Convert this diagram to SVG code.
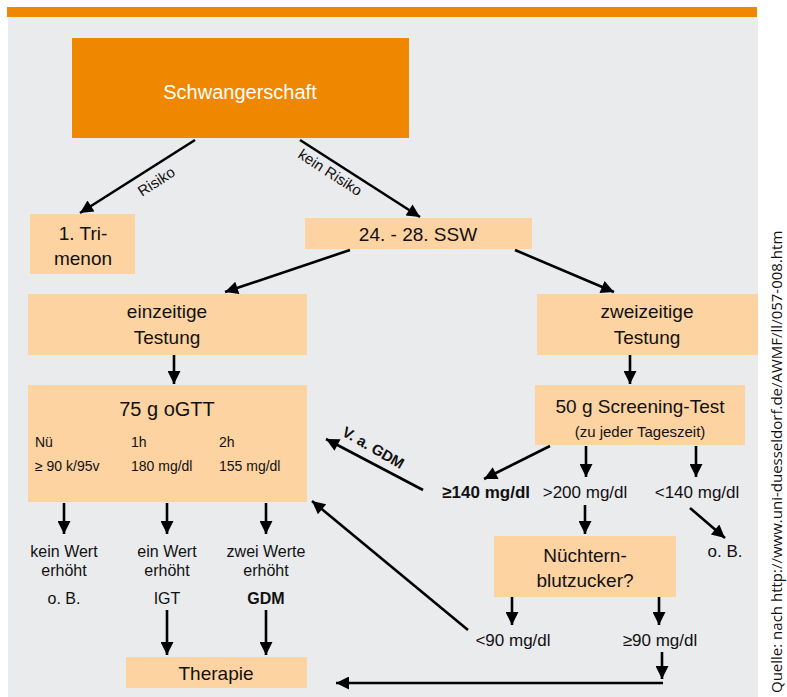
<svg xmlns="http://www.w3.org/2000/svg" width="787" height="697" viewBox="0 0 787 697">
<defs>
<style>
.bg{fill:#EAEBED}
.box{fill:#FCD3A1}
.t{font-family:"Liberation Sans",Arial,sans-serif;fill:#111}
.n{font-family:"Liberation Sans",Arial,sans-serif;fill:#111}
.c{stroke:#000;stroke-width:2.6;fill:none}
</style>
<marker id="ah" viewBox="0 0 10 10" refX="10" refY="5" markerWidth="6.2" markerHeight="5" markerUnits="strokeWidth" orient="auto">
<path d="M0,0 L10,5 L0,10 z" fill="#000"/>
</marker>
</defs>
<rect x="8" y="17" width="750" height="680" class="bg"/>
<rect x="7" y="7" width="750" height="10" fill="#F08700"/>

<g id="n-schwangerschaft">
<rect x="72" y="38" width="337" height="100" fill="#F08700"/>
<text x="240" y="99" class="t" font-size="20" text-anchor="middle" style="fill:#fff">Schwangerschaft</text>
</g>
<g id="n-trimenon">
<rect x="30" y="214" width="105" height="60" class="box"/>
<text x="83" y="240" class="n" font-size="19" text-anchor="middle">1. Tri-</text>
<text x="83" y="265" class="n" font-size="19" text-anchor="middle">menon</text>
</g>
<g id="n-ssw">
<rect x="305" y="218" width="227" height="31" class="box"/>
<text x="418" y="241" class="n" font-size="19" text-anchor="middle">24. - 28. SSW</text>
</g>
<g id="n-einzeitig">
<rect x="28" y="294" width="279" height="61" class="box"/>
<text x="167" y="318" class="n" font-size="19" text-anchor="middle">einzeitige</text>
<text x="167" y="344" class="n" font-size="19" text-anchor="middle">Testung</text>
</g>
<g id="n-zweizeitig">
<rect x="537" y="294" width="221" height="61" class="box"/>
<text x="647" y="318" class="n" font-size="19" text-anchor="middle">zweizeitige</text>
<text x="647" y="344" class="n" font-size="19" text-anchor="middle">Testung</text>
</g>
<g id="n-ogtt">
<rect x="28" y="385" width="279" height="117" class="box"/>
<text x="167" y="416" class="t" font-size="20" text-anchor="middle">75 g oGTT</text>
<text x="35" y="447" class="t" font-size="14">Nü</text>
<text x="131" y="447" class="t" font-size="14">1h</text>
<text x="219" y="447" class="t" font-size="14">2h</text>
<text x="35" y="471" class="t" font-size="14">≥ 90 k/95v</text>
<text x="131" y="471" class="t" font-size="14">180 mg/dl</text>
<text x="219" y="471" class="t" font-size="14">155 mg/dl</text>
</g>
<g id="n-screening">
<rect x="535" y="385" width="210" height="60" class="box"/>
<text x="640" y="413" class="t" font-size="19" text-anchor="middle">50 g Screening-Test</text>
<text x="640" y="437" class="t" font-size="15" text-anchor="middle">(zu jeder Tageszeit)</text>
</g>
<g id="n-nuechtern">
<rect x="494" y="536" width="182" height="61" class="box"/>
<text x="585" y="562" class="t" font-size="19" text-anchor="middle">Nüchtern-</text>
<text x="585" y="587" class="t" font-size="19" text-anchor="middle">blutzucker?</text>
</g>
<g id="n-therapie">
<rect x="126" y="657" width="181" height="31" class="box"/>
<text x="216" y="680" class="t" font-size="19" text-anchor="middle">Therapie</text>
</g>

<g id="labels">
<text x="530" y="498" class="t" font-size="17" font-weight="bold" text-anchor="end">≥140 mg/dl</text>
<text x="585" y="498" class="t" font-size="17" text-anchor="middle">&gt;200 mg/dl</text>
<text x="697" y="498" class="t" font-size="17" text-anchor="middle">&lt;140 mg/dl</text>
<text x="725" y="557" class="t" font-size="17" text-anchor="middle">o. B.</text>
<text x="513" y="646" class="t" font-size="17" text-anchor="middle">&lt;90 mg/dl</text>
<text x="660" y="646" class="t" font-size="17" text-anchor="middle">≥90 mg/dl</text>
<text x="64" y="557" class="t" font-size="16" text-anchor="middle">kein Wert</text>
<text x="64" y="576" class="t" font-size="16" text-anchor="middle">erhöht</text>
<text x="64" y="604" class="t" font-size="16" text-anchor="middle">o. B.</text>
<text x="167" y="557" class="t" font-size="16" text-anchor="middle">ein Wert</text>
<text x="167" y="576" class="t" font-size="16" text-anchor="middle">erhöht</text>
<text x="167" y="604" class="t" font-size="16" text-anchor="middle">IGT</text>
<text x="266" y="557" class="t" font-size="16" text-anchor="middle">zwei Werte</text>
<text x="266" y="576" class="t" font-size="16" text-anchor="middle">erhöht</text>
<text x="266" y="604" class="t" font-size="16" font-weight="bold" text-anchor="middle">GDM</text>
<text transform="translate(142,197) rotate(-33)" class="t" font-size="15">Risiko</text>
<text transform="translate(297,157) rotate(33)" class="t" font-size="15">kein Risiko</text>
<text transform="translate(341,435) rotate(30)" class="t" font-size="15" font-weight="bold">V. a. GDM</text>
<text transform="translate(782,693) rotate(-90)" font-family="'Open Sans',sans-serif" font-size="15" fill="#111">Quelle:  nach http://www.uni-duesseldorf.de/AWMF/ll/057-008.htm</text>
</g>

<g id="connectors" class="c">
<path d="M195,140 L80,213" marker-end="url(#ah)"/>
<path d="M300,140 L420,217" marker-end="url(#ah)"/>
<path d="M350,250 L225,292" marker-end="url(#ah)"/>
<path d="M515,250 L614,292" marker-end="url(#ah)"/>
<path d="M174,355 L174,384" marker-end="url(#ah)"/>
<path d="M630,355 L630,384" marker-end="url(#ah)"/>
<path d="M550,446 L484,479" marker-end="url(#ah)"/>
<path d="M586,446 L586,477" marker-end="url(#ah)"/>
<path d="M696,446 L696,477" marker-end="url(#ah)"/>
<path d="M423,490 L326,439" marker-end="url(#ah)"/>
<path d="M690,508 L725,538" marker-end="url(#ah)"/>
<path d="M585,505 L585,534" marker-end="url(#ah)"/>
<path d="M512,597 L512,625" marker-end="url(#ah)"/>
<path d="M659,597 L659,625" marker-end="url(#ah)"/>
<path d="M468,630 L312,501" marker-end="url(#ah)"/>
<path d="M64,503 L64,534" marker-end="url(#ah)"/>
<path d="M167,503 L167,534" marker-end="url(#ah)"/>
<path d="M266,503 L266,534" marker-end="url(#ah)"/>
<path d="M167,610 L167,655" marker-end="url(#ah)"/>
<path d="M266,610 L266,655" marker-end="url(#ah)"/>
<path d="M662,652 L662,679" marker-end="url(#ah)"/>
<path d="M663,683 L336,683" marker-end="url(#ah)"/>
</g>
</svg>
